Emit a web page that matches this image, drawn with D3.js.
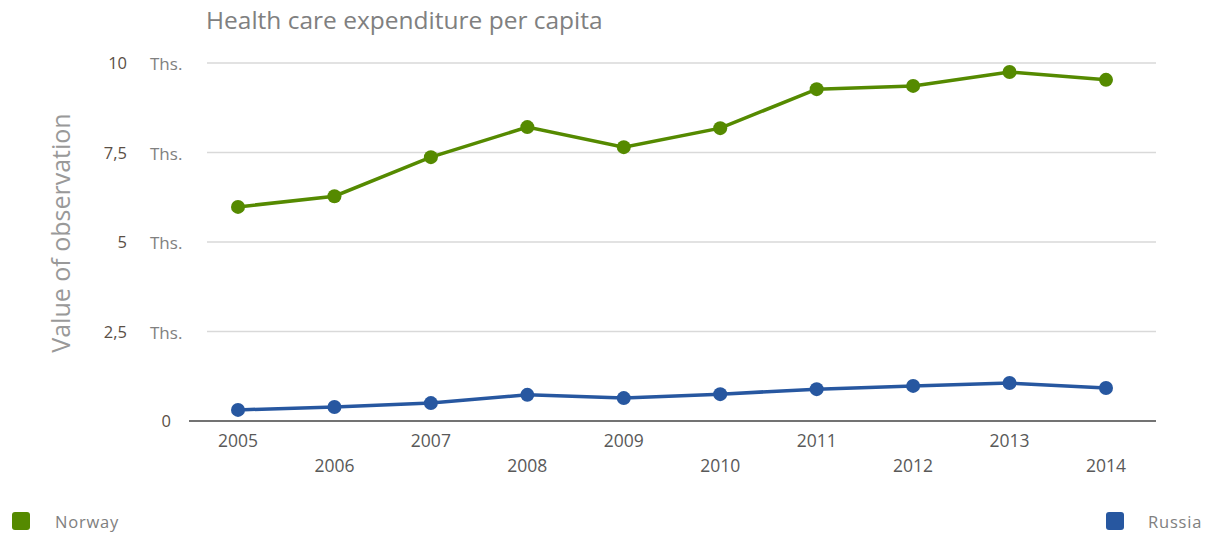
<!DOCTYPE html>
<html>
<head>
<meta charset="utf-8">
<script src="https://cdn.jsdelivr.net/npm/d3@7"></script>
<style>
  body { margin: 0; background: #fff; }
  text { font-family: "Open Sans", sans-serif; }
</style>
</head>
<body>
<div id="chart"></div>
<script>
// Data (thousands)
const years = ["2005", "2006", "2007", "2008", "2009", "2010", "2011", "2012", "2013", "2014"];
const norway = [5.98, 6.28, 7.37, 8.21, 7.65, 8.18, 9.27, 9.36, 9.75, 9.53];
const russia = [0.31, 0.39, 0.50, 0.73, 0.64, 0.75, 0.89, 0.98, 1.06, 0.92];
const yTicks = [0, 2.5, 5, 7.5, 10];
const yTickLabels = ["0", "2,5", "5", "7,5", "10"];
const seriesNames = ["Norway", "Russia"];
const seriesColors = ["#558a00", "#2757a0"];

const width = 1208, height = 534;
const svg = d3.select("#chart").append("svg")
    .attr("width", width)
    .attr("height", height);

// Scales
const x = d3.scalePoint()
    .domain(years)
    .range([238, 1106]);

const y = d3.scaleLinear()
    .domain([0, 10])
    .range([421, 63]);

// Title
svg.append("text")
    .attr("x", 206)
    .attr("y", 29)
    .style("font-size", "24.5px")
    .style("fill", "#808080")
    .text("Health care expenditure per capita");

// Y axis title
svg.append("text")
    .attr("transform", "translate(70, 233) rotate(-90)")
    .attr("text-anchor", "middle")
    .style("font-size", "25px")
    .style("fill", "#999")
    .text("Value of observation");

// Gridlines
svg.append("g")
    .selectAll("line")
    .data(yTicks.filter(d => d > 0))
    .join("line")
    .attr("x1", 207)
    .attr("x2", 1156)
    .attr("y1", d => y(d))
    .attr("y2", d => y(d))
    .style("stroke", "#d9d9d9")
    .style("stroke-width", 1.5);

// Baseline
svg.append("line")
    .attr("x1", 189)
    .attr("x2", 1156)
    .attr("y1", y(0))
    .attr("y2", y(0))
    .style("stroke", "#444")
    .style("stroke-width", 1.5);

// Y tick labels
const yLab = svg.append("g");
yLab.selectAll("text.val")
    .data(yTicks)
    .join("text")
    .attr("class", "val")
    .attr("x", d => d === 0 ? 171 : 127)
    .attr("y", d => y(d) + 6)
    .attr("text-anchor", "end")
    .style("font-size", "16.5px")
    .style("fill", "#5a4f45")
    .text((d, i) => yTickLabels[i]);

yLab.selectAll("text.unit")
    .data(yTicks.filter(d => d > 0))
    .join("text")
    .attr("class", "unit")
    .attr("x", 150)
    .attr("y", d => y(d) + 7)
    .style("font-size", "17px")
    .style("fill", "#808080")
    .text("Ths.");

// X axis labels, staggered on two rows
svg.append("g")
    .selectAll("text")
    .data(years)
    .join("text")
    .attr("x", d => x(d))
    .attr("y", (d, i) => i % 2 === 0 ? 447 : 472)
    .attr("text-anchor", "middle")
    .style("font-size", "17.5px")
    .style("fill", "#595959")
    .text(d => d);

// Lines and points
const line = d3.line()
    .x((d, i) => x(years[i]))
    .y(d => y(d));

[norway, russia].forEach((vals, k) => {
    svg.append("path")
        .datum(vals)
        .attr("d", line)
        .style("fill", "none")
        .style("stroke", seriesColors[k])
        .style("stroke-width", 3.5);

    svg.append("g")
        .selectAll("circle")
        .data(vals)
        .join("circle")
        .attr("cx", (d, i) => x(years[i]))
        .attr("cy", d => y(d))
        .attr("r", 7)
        .style("fill", seriesColors[k]);
});

// Legend
const legendPos = [{ sx: 12, tx: 55 }, { sx: 1106, tx: 1148 }];
seriesNames.forEach((name, k) => {
    svg.append("rect")
        .attr("x", legendPos[k].sx)
        .attr("y", 512)
        .attr("width", 18)
        .attr("height", 18)
        .attr("rx", 3)
        .style("fill", seriesColors[k]);
    svg.append("text")
        .attr("x", legendPos[k].tx)
        .attr("y", 528)
        .style("font-size", "16.5px")
        .style("fill", "#808080")
        .style("letter-spacing", "0.8px")
        .text(name);
});
</script>
</body>
</html>
